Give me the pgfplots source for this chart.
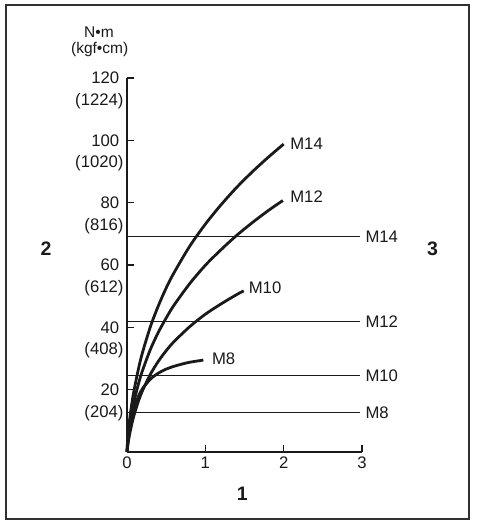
\documentclass[border=0pt]{standalone}
\usepackage{fontspec}
\setmainfont{Liberation Sans}
\usepackage{pgfplots}
\pgfplotsset{compat=1.18}
\definecolor{ink}{HTML}{1A1A1A}
\begin{document}
\begin{tikzpicture}
\path[use as bounding box] (0pt,0pt) rectangle (478pt,524pt);
\draw[line width=2pt, color=ink!90] (6pt,5pt) rectangle (469pt,519pt);
\node[anchor=base, inner sep=0pt, font=\fontsize{15.5}{17}\selectfont, text=ink] at (99pt,486pt) {N•m};
\node[anchor=base, inner sep=0pt, font=\fontsize{15.5}{17}\selectfont, text=ink] at (99.7pt,470.7pt) {(kgf•cm)};
\node[anchor=base, inner sep=0pt, font=\fontsize{19.5}{21}\selectfont\bfseries, text=ink] at (46pt,268pt) {2};
\node[anchor=base, inner sep=0pt, font=\fontsize{19.5}{21}\selectfont\bfseries, text=ink] at (432.5pt,268pt) {3};
\node[anchor=base, inner sep=0pt, font=\fontsize{19.5}{21}\selectfont\bfseries, text=ink] at (242.3pt,23.3pt) {1};
\begin{axis}[
  at={(127pt,72pt)}, anchor=south west,
  scale only axis, width=235pt, height=374pt,
  xmin=0, xmax=3, ymin=0, ymax=120,
  axis x line*=bottom, axis y line*=left,
  clip=false,
  xtick={0,1,2,3}, ytick={20,40,60,80,100,120},
  tick align=inside, major tick length=7pt,
  every tick/.style={line width=1.5pt, ink},
  axis line style={line width=1.6pt, ink},
  font=\fontsize{16.7}{18}\selectfont,
  /pgf/number format/assume math mode=true,
  yticklabel style={xshift=-4.3pt, text=ink},
  xticklabel style={yshift=-1.5pt, text=ink},
  extra y ticks={12.6,32.6,52.6,72.6,92.6,112.6},
  extra y tick labels={(204),(408),(612),(816),(1020),(1224)},
  extra y tick style={major tick length=0pt, yticklabel style={xshift=4.3pt}},
]
% horizontal reference lines
\addplot[ink, line width=1.3pt] coordinates {(0,12.7) (2.98,12.7)};
\addplot[ink, line width=1.3pt] coordinates {(0,24.5) (2.98,24.5)};
\addplot[ink, line width=1.3pt] coordinates {(0,41.8) (2.98,41.8)};
\addplot[ink, line width=1.3pt] coordinates {(0,69.2) (2.98,69.2)};
\node[anchor=west, text=ink] at (axis cs:3,12.7) {M8};
\node[anchor=west, text=ink] at (axis cs:3,24.5) {M10};
\node[anchor=west, text=ink] at (axis cs:3,41.8) {M12};
\node[anchor=west, text=ink] at (axis cs:3,69.2) {M14};
% curves
\addplot[ink, line width=2.8pt, smooth] coordinates {
 (0,0) (0.01,2.4) (0.02,4.5) (0.04,8.0) (0.07,11.9) (0.1,14.7) (0.15,18.1)
 (0.2,20.4) (0.3,23.4) (0.4,25.3) (0.5,26.6) (0.6,27.5) (0.7,28.2)
 (0.8,28.8) (0.9,29.2) (0.975,29.5)};
\addplot[ink, line width=2.8pt, smooth] coordinates {
 (0,0) (0.01,2.2) (0.02,3.8) (0.04,6.5) (0.07,9.9) (0.1,12.7) (0.15,16.6)
 (0.2,19.8) (0.3,25.0) (0.4,29.1) (0.5,32.5) (0.6,35.4) (0.8,40.2)
 (1.0,44.2) (1.2,47.5) (1.4,50.5) (1.49,51.7)};
\addplot[ink, line width=2.8pt, smooth] coordinates {
 (0,0) (0.01,3.9) (0.02,6.1) (0.04,9.6) (0.07,13.8) (0.1,17.3) (0.15,22.2)
 (0.2,26.3) (0.3,33.0) (0.4,38.4) (0.5,43.0) (0.6,47.1) (0.8,54.0)
 (1.0,59.9) (1.2,64.9) (1.4,69.5) (1.6,73.6) (1.8,77.4) (1.99,80.7)};
\addplot[ink, line width=2.8pt, smooth] coordinates {
 (0,0) (0.01,4.8) (0.02,7.5) (0.04,11.7) (0.07,16.9) (0.1,21.1) (0.15,27.1)
 (0.2,32.1) (0.3,40.3) (0.4,46.9) (0.5,52.6) (0.6,57.5) (0.8,66.0)
 (1.0,73.1) (1.2,79.3) (1.4,84.9) (1.6,89.9) (1.8,94.5) (2.0,98.8)};
\node[anchor=west, text=ink] at (axis cs:2.04,99.0) {M14};
\node[anchor=west, text=ink] at (axis cs:2.04,81.8) {M12};
\node[anchor=west, text=ink] at (axis cs:1.51,52.6) {M10};
\node[anchor=west, text=ink] at (axis cs:1.04,29.8) {M8};
\end{axis}
\end{tikzpicture}
\end{document}
